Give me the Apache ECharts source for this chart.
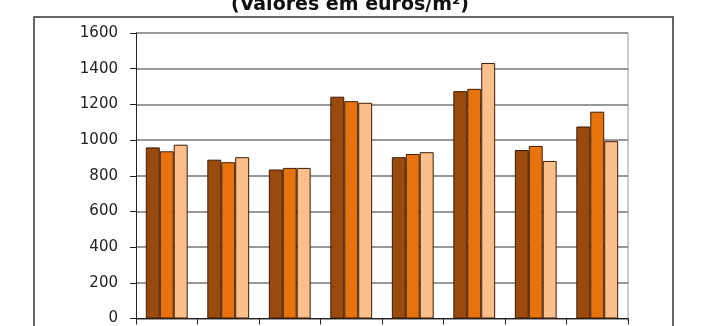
<!DOCTYPE html>
<html>
<head>
<meta charset="utf-8">
<script src="https://cdn.jsdelivr.net/npm/echarts@6/dist/echarts.min.js"></script>
<style>
  html, body { margin: 0; padding: 0; background: #fff; }
  #chart { width: 712px; height: 326px; }
</style>
</head>
<body>
<div id="chart"></div>
<script>
// categorias (rótulos cortados na imagem)
const categories = ['1', '2', '3', '4', '5', '6', '7', '8']
const serieA = [959, 890, 835, 1243, 904, 1274, 944, 1076]
const serieB = [937, 876, 844, 1218, 922, 1287, 967, 1159]
const serieC = [974, 904, 844, 1209, 932, 1432, 883, 994]
const yTicks = [0, 200, 400, 600, 800, 1000, 1200, 1400, 1600]

const colors = ['#9a4a0c', '#e8720e', '#fbbf8c']

const chart = echarts.init(document.getElementById('chart'))

const bar = (name, data, color) => ({
  name,
  type: 'bar',
  data,
  barGap: '0%',
  barCategoryGap: '32%',
  itemStyle: { color, borderColor: '#3c1c04', borderWidth: 1 }
})

chart.setOption({
  animation: false,
  textStyle: { fontFamily: 'DejaVu Sans' },
  graphic: [
    {
      type: 'rect',
      shape: { x: 34, y: 17, width: 639, height: 330 },
      style: { fill: 'none', stroke: '#333', lineWidth: 1.5 }
    },
    {
      type: 'text',
      x: 350,
      y: 15,
      style: {
        text: '(Valores em euros/m²)',
        font: 'bold 19px "DejaVu Sans"',
        fill: '#111',
        align: 'center',
        verticalAlign: 'bottom'
      }
    },
    {
      type: 'line',
      shape: { x1: 628, y1: 33, x2: 628, y2: 321 },
      style: { stroke: '#bbb', lineWidth: 1.5 }
    }
  ],
  grid: { left: 136, right: 84, top: 33, bottom: 5 },
  xAxis: {
    type: 'category',
    data: categories,
    axisLine: { lineStyle: { color: '#222', width: 1 } },
    axisTick: { show: true, length: 6, lineStyle: { color: '#222' } },
    axisLabel: { show: false }
  },
  yAxis: {
    type: 'value',
    min: yTicks[0],
    max: yTicks[yTicks.length - 1],
    interval: 200,
    axisLine: { show: true, lineStyle: { color: '#222', width: 1 } },
    axisTick: { show: true, length: 6, lineStyle: { color: '#222' } },
    axisLabel: {
      margin: 18,
      fontSize: 15,
      color: '#222',
      fontFamily: 'DejaVu Sans',
      formatter: v => String(v)
    },
    splitLine: { lineStyle: { color: '#777', width: 1.5 } }
  },
  series: [
    bar('A', serieA, colors[0]),
    bar('B', serieB, colors[1]),
    bar('C', serieC, colors[2])
  ]
})
</script>
</body>
</html>
